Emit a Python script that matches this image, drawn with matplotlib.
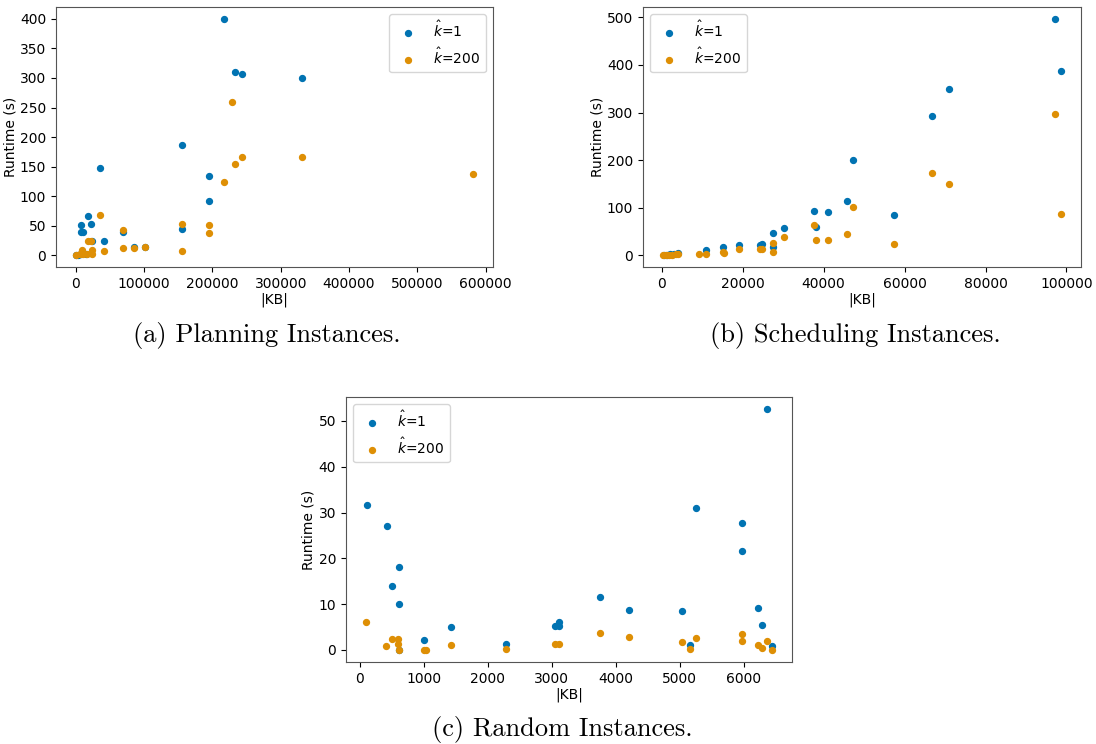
import matplotlib
matplotlib.use("Agg")
import matplotlib.pyplot as plt

BLUE = "#0173b2"
ORANGE = "#de8f05"

# (a) planning instances
plan_kb_k1 = [217100, 232300, 244000, 330400, 155200, 35100, 194700, 194700, 17600,
              6900, 22000, 7800, 10200, 68400, 155200, 40600, 23400, 84500, 101000,
              500, 3000, 8000, 15000]
plan_rt_k1 = [400, 310, 306, 300, 186, 148, 135, 92, 66,
              51, 53, 40, 40, 39, 44, 25, 25, 14, 14,
              0.5, 1, 2, 3]
plan_kb_k200 = [228000, 244000, 330400, 232300, 217100, 35100, 155200, 194700, 194700,
                68400, 17600, 22000, 40600, 68400, 84500, 101000, 155200, 581700,
                0, 5900, 8400, 10700, 15700, 23400, 23400]
plan_rt_k200 = [259, 166, 166, 154, 124, 69, 54, 52, 38,
                43, 25, 25, 7, 13, 13, 14, 8, 137,
                0.5, 2, 10, 3, 3, 10, 3]

# (b) scheduling instances
sched_kb_k1 = [97120, 98670, 71070, 66800, 47250, 45680, 37540, 41170, 38130, 30250,
               27530, 27530, 24400, 24720, 19150, 15110, 10920, 57430,
               500, 1200, 2000, 3000, 4000]
sched_rt_k1 = [497, 387, 350, 293, 200, 114, 93, 91, 60, 58,
               46, 17, 22, 23, 22, 17, 10, 85,
               0.5, 1, 2, 3, 5]
sched_kb_k200 = [97120, 98670, 66800, 71070, 47250, 45680, 37540, 38130, 41170, 30250,
                 27530, 27530, 24400, 24720, 19150, 15110, 15300, 10920, 9300, 57430,
                 300, 1000, 1800, 2600, 3500, 4000]
sched_rt_k200 = [297, 87, 173, 150, 101, 44, 63, 32, 32, 38,
                 26, 7, 13, 13, 13, 7, 4.5, 2, 2, 24,
                 0, 0.5, 1, 1, 1.5, 2]

# (c) random instances
rand_kb_k1 = [106, 419, 617, 502, 606, 1007, 1424, 2284, 3054, 3116, 3116, 617,
              6365, 5261, 5980, 5970, 3761, 4205, 5037, 6220, 6282, 5157, 6438]
rand_rt_k1 = [31.7, 27.1, 18.1, 14.0, 10.0, 2.1, 5.1, 1.2, 5.3, 6.2, 5.3, 0.1,
              52.6, 30.9, 27.7, 21.7, 11.6, 8.8, 8.6, 9.1, 5.4, 1.1, 0.8]
rand_kb_k200 = [102, 403, 502, 597, 597, 612, 1007, 1034, 1424, 2284, 3054, 3116,
                3761, 4205, 5037, 5157, 5261, 5980, 5970, 6220, 6282, 6365, 6438]
rand_rt_k200 = [6.0, 0.9, 2.4, 2.4, 1.3, 0.0, 0.1, 0.1, 1.1, 0.2, 1.3, 1.4,
                3.8, 2.8, 1.7, 0.2, 2.6, 3.5, 1.9, 1.1, 0.4, 2.0, 0.0]

labels = [r"$\hat{k}$=1", r"$\hat{k}$=200"]
captions = ["(a) Planning Instances.", "(b) Scheduling Instances.", "(c) Random Instances."]

fig = plt.figure(figsize=(10.96, 7.44), dpi=100)
ax_a = fig.add_axes([0.0511, 0.6411, 0.3987, 0.3495])
ax_b = fig.add_axes([0.5867, 0.6411, 0.3996, 0.3495])
ax_c = fig.add_axes([0.3157, 0.1102, 0.4069, 0.3562])

panels = [
    (ax_a, plan_kb_k1, plan_rt_k1, plan_kb_k200, plan_rt_k200, "upper right"),
    (ax_b, sched_kb_k1, sched_rt_k1, sched_kb_k200, sched_rt_k200, "upper left"),
    (ax_c, rand_kb_k1, rand_rt_k1, rand_kb_k200, rand_rt_k200, "upper left"),
]

for i, (ax, x1, y1, x2, y2, loc) in enumerate(panels):
    ax.scatter(x1, y1, s=18, color=BLUE, label=labels[0], zorder=2)
    ax.scatter(x2, y2, s=18, color=ORANGE, label=labels[1], zorder=3)
    ax.set_xlabel("|KB|", fontsize=10, labelpad=1)
    ax.set_ylabel("Runtime (s)", fontsize=10, labelpad=2)
    ax.tick_params(labelsize=10)
    ax.legend(loc=loc, fontsize=10)
    for sp in ax.spines.values():
        sp.set_color("#555555")

ax_a.set_yticks([0, 50, 100, 150, 200, 250, 300, 350, 400])
ax_c.set_yticks([0, 10, 20, 30, 40, 50])

cap_font = dict(family="cmr10", fontsize=19, ha="center", va="center")
fig.text(0.2436, 0.549, captions[0], **cap_font)
fig.text(0.780, 0.549, captions[1], **cap_font)
fig.text(0.5128, 0.019, captions[2], **cap_font)

fig.savefig("out.png", dpi=100)
